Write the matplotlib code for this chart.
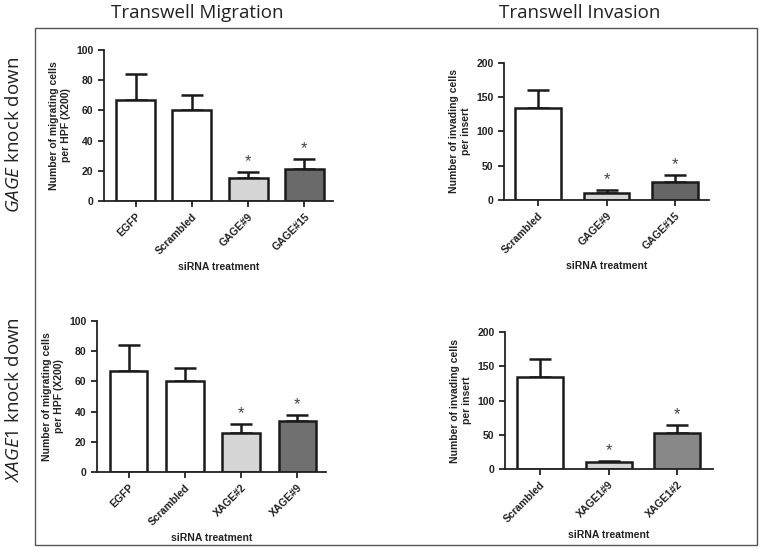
import matplotlib.pyplot as plt
from matplotlib.patches import Rectangle

# dados
mig_gage_labels = ['EGFP', 'Scrambled', 'GAGE#9', 'GAGE#15']
mig_gage_means = [67, 60, 15, 21]
mig_gage_err = [17, 10, 4, 7]
mig_gage_star = [False, False, True, True]

inv_gage_labels = ['Scrambled', 'GAGE#9', 'GAGE#15']
inv_gage_means = [135, 10, 26]
inv_gage_err = [26, 4, 11]
inv_gage_star = [False, True, True]

mig_xage_labels = ['EGFP', 'Scrambled', 'XAGE#2', 'XAGE#9']
mig_xage_means = [67, 60, 26, 34]
mig_xage_err = [17, 9, 6, 4]
mig_xage_star = [False, False, True, True]

inv_xage_labels = ['Scrambled', 'XAGE1#9', 'XAGE1#2']
inv_xage_means = [135, 10, 53]
inv_xage_err = [26, 2, 11]
inv_xage_star = [False, True, True]

plt.rcParams['font.family'] = ['Liberation Sans', 'DejaVu Sans']
plt.rcParams['mathtext.fontset'] = 'custom'
plt.rcParams['mathtext.it'] = 'Open Sans:italic'
plt.rcParams['mathtext.rm'] = 'Open Sans'

fig = plt.figure(figsize=(7.61, 5.6), dpi=100)


def painel(pos, labels, means, err, star, cores, ymax, ystep, ylabel, xlim, width):
    ax = fig.add_axes(pos)
    x = list(range(len(labels)))
    ax.bar(x, means, width=width, color=cores, edgecolor='#1a1a1a', linewidth=1.8, zorder=2)
    ax.errorbar(x, means, yerr=[[0] * len(err), err], fmt='none', ecolor='#1a1a1a',
                elinewidth=1.8, capsize=8, capthick=1.8, zorder=1)
    for i in x:
        if star[i]:
            ax.annotate('*', (i, means[i] + err[i]), xytext=(0, 2), textcoords='offset points',
                        ha='center', va='bottom', fontsize=12, color='#444444')
    ax.set_xlim(*xlim)
    ax.set_ylim(0, ymax)
    ax.set_yticks(range(0, ymax + 1, ystep))
    ax.set_xticks(x)
    ax.set_xticklabels(labels, rotation=45, ha='right', rotation_mode='anchor')
    ax.spines['top'].set_visible(False)
    ax.spines['right'].set_visible(False)
    for s in ['left', 'bottom']:
        ax.spines[s].set_linewidth(1.3)
        ax.spines[s].set_color('#222222')
    ax.tick_params(direction='out', length=4, width=1.3, color='#222222', labelsize=7.5)
    for t in ax.get_xticklabels() + ax.get_yticklabels():
        t.set_fontweight('bold')
        t.set_color('#222222')
    ax.set_ylabel(ylabel, fontsize=7.5, fontweight='bold', color='#222222', labelpad=4)
    ax.set_xlabel('siRNA treatment', fontsize=7.5, fontweight='bold', color='#222222', labelpad=4)
    return ax


painel([0.1367, 0.641, 0.301, 0.2696], mig_gage_labels, mig_gage_means, mig_gage_err, mig_gage_star,
       ['white', 'white', '#d6d6d6', '#6a6a6a'], 100, 20,
       'Number of migrating cells\nper HPF (X200)', (-0.56, 3.51), 0.69)
painel([0.6623, 0.6429, 0.2694, 0.2446], inv_gage_labels, inv_gage_means, inv_gage_err, inv_gage_star,
       ['white', '#d6d6d6', '#666666'], 200, 50,
       'Number of invading cells\nper insert', (-0.5, 2.5), 0.67)
painel([0.1275, 0.1571, 0.301, 0.2696], mig_xage_labels, mig_xage_means, mig_xage_err, mig_xage_star,
       ['white', 'white', '#d6d6d6', '#707070'], 100, 20,
       'Number of migrating cells\nper HPF (X200)', (-0.56, 3.51), 0.67)
painel([0.6636, 0.1625, 0.2733, 0.2446], inv_xage_labels, inv_xage_means, inv_xage_err, inv_xage_star,
       ['white', '#d6d6d6', '#888888'], 200, 50,
       'Number of invading cells\nper insert', (-0.51, 2.52), 0.67)

# moldura externa
fig.patches.append(Rectangle((35 / 761, 1 - 545 / 560), 722 / 761, 517 / 560,
                             transform=fig.transFigure, fill=False, edgecolor='#555555', linewidth=1))

fig.text(197 / 761, 1 - 13 / 560, 'Transwell Migration', ha='center', va='center',
         fontsize=13.5, family=['Open Sans', 'DejaVu Sans'], color='#222222')
fig.text(580 / 761, 1 - 13 / 560, 'Transwell Invasion', ha='center', va='center',
         fontsize=13.5, family=['Open Sans', 'DejaVu Sans'], color='#222222')
fig.text(14 / 761, 1 - 135 / 560, r'$\it{GAGE}$ knock down', rotation=90, ha='center', va='center',
         fontsize=13.5, family=['Open Sans', 'DejaVu Sans'], color='#222222')
fig.text(14 / 761, 1 - 400 / 560, r'$\it{XAGE1}$ knock down', rotation=90, ha='center', va='center',
         fontsize=13.5, family=['Open Sans', 'DejaVu Sans'], color='#222222')

fig.savefig('out.png', dpi=100)
